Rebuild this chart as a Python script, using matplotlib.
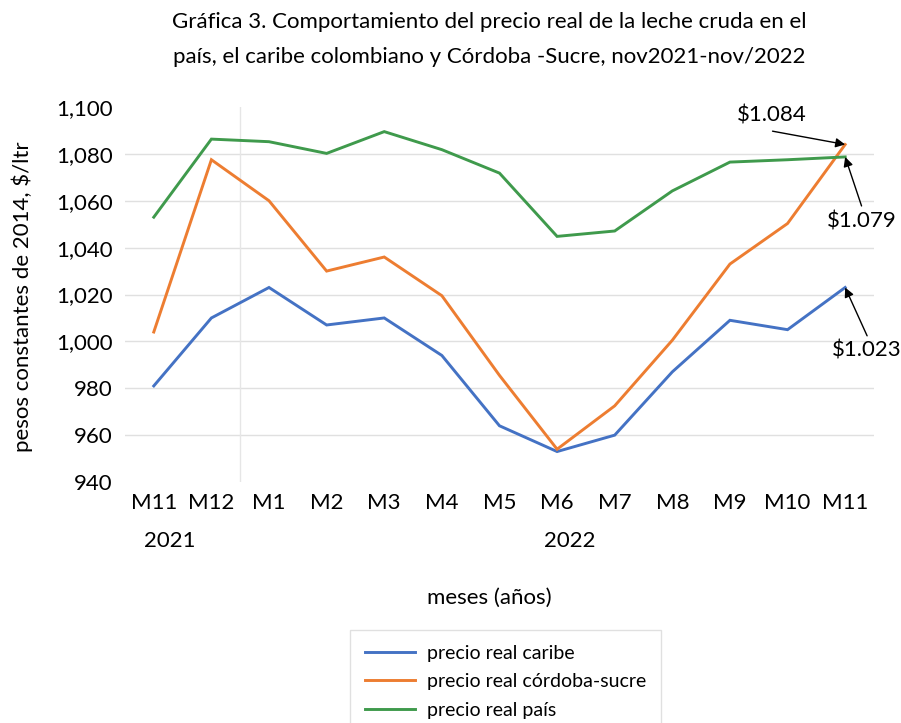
import matplotlib
matplotlib.use("Agg")
import matplotlib.pyplot as plt
import matplotlib.transforms as mtransforms

plt.rcParams['font.family'] = ['Lato', 'DejaVu Sans']

months = ["M11", "M12", "M1", "M2", "M3", "M4", "M5", "M6", "M7", "M8", "M9", "M10", "M11"]
years = ["2021", "2022"]
caribe = [981, 1010, 1023, 1007, 1010, 994, 964, 953, 960, 987, 1009, 1005, 1023]
cordoba_sucre = [1004, 1077.5, 1060, 1030, 1036, 1019.5, 985.5, 954, 972.5, 1000.5, 1033, 1050.3, 1084]
pais = [1053, 1086.3, 1085.2, 1080.2, 1089.5, 1081.8, 1071.8, 1044.8, 1047.1, 1064.2, 1076.5, 1077.5, 1078.7]
series_names = ["precio real caribe", "precio real córdoba-sucre", "precio real país"]
annot_labels = ["$1.084", "$1.079", "$1.023"]
yticks = [940, 960, 980, 1000, 1020, 1040, 1060, 1080, 1100]

colors = ["#4472C4", "#ED7D31", "#3F9A4C"]
FS = 16

fig = plt.figure(figsize=(9.01, 7.23), dpi=100)
ax = fig.add_axes([0.1387, 0.3333, 0.8313, 0.5187])

x = list(range(len(months)))
for vals, name, c in zip([caribe, cordoba_sucre, pais], series_names, colors):
    ax.plot(x, vals, color=c, lw=2.1, label=name, solid_joinstyle='miter')

ax.set_xlim(-0.5, len(months) - 0.5)
ax.set_ylim(940, 1100)
ax.set_yticks(yticks)
ax.set_yticklabels([f"{v:,}" for v in yticks])
ax.set_xticks(x)
ax.set_xticklabels(months)
ax.tick_params(axis='both', length=0, labelsize=FS, colors='black')
ax.tick_params(axis='y', pad=9)
ax.tick_params(axis='x', pad=8)

for s in ax.spines.values():
    s.set_visible(False)
for v in yticks[1:-1]:
    ax.axhline(v, color='#E0E0E0', lw=1, zorder=0)
# year separator between M12 and M1
ax.axvline(1.5, color='#E6E6E6', lw=1, zorder=0)

# year labels
trans = mtransforms.blended_transform_factory(ax.transData, fig.transFigure)
ax.text(0.28, 1 - 541 / 723, years[0], transform=trans, ha='center', va='center', fontsize=FS)
ax.text(7.22, 1 - 541 / 723, years[1], transform=trans, ha='center', va='center', fontsize=FS)

fig.text(0.5435, 1 - 598 / 723, "meses (años)", ha='center', va='center', fontsize=FS)
fig.text(0.025, 1 - 297 / 723, "pesos constantes de 2014, $/ltr", rotation=90,
         ha='center', va='center', fontsize=FS)

fig.text(0.5433, 1 - 22 / 723, "Gráfica 3. Comportamiento del precio real de la leche cruda en el",
         ha='center', va='center', fontsize=FS)
fig.text(0.5433, 1 - 57 / 723, "país, el caribe colombiano y Córdoba -Sucre, nov2021-nov/2022",
         ha='center', va='center', fontsize=FS)

# annotations at the last point
last = len(months) - 1
ap = dict(arrowstyle='-|>', color='black', lw=1, mutation_scale=14, shrinkA=0, shrinkB=0)
# $1.084 (orange)
ax.annotate("", xy=(last, cordoba_sucre[-1]), xytext=(-52.3, 9.6), textcoords='offset points',
            arrowprops=ap)
ax.annotate(annot_labels[0], xy=(last, cordoba_sucre[-1]), xytext=(-53, 21),
            textcoords='offset points', ha='center', va='center', fontsize=FS)
# $1.079 (green)
ax.annotate("", xy=(last, pais[-1]), xytext=(11.8, -35.3), textcoords='offset points',
            arrowprops=ap)
ax.annotate(annot_labels[1], xy=(last, pais[-1]), xytext=(11.8, -46.8),
            textcoords='offset points', ha='center', va='center', fontsize=FS)
# $1.023 (blue)
ax.annotate("", xy=(last, caribe[-1]), xytext=(15.8, -34.8), textcoords='offset points',
            arrowprops=ap)
ax.annotate(annot_labels[2], xy=(last, caribe[-1]), xytext=(15.4, -45.6),
            textcoords='offset points', ha='center', va='center', fontsize=FS)

leg = fig.legend(loc='upper left', bbox_to_anchor=(350 / 901, 1 - 630 / 723), frameon=True,
                 fontsize=14, handlelength=2.6, handletextpad=0.6, labelspacing=0.6,
                 borderpad=0.75, borderaxespad=0, fancybox=False, edgecolor='#D9D9D9')
leg.get_frame().set_linewidth(1)

fig.savefig("out.png", dpi=100, facecolor='white')
